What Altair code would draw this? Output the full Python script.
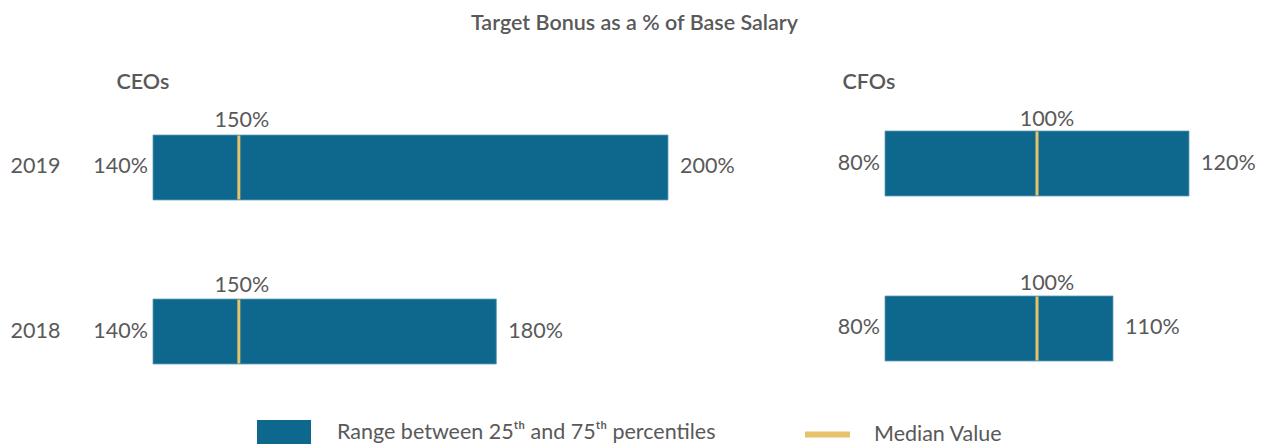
import altair as alt
import pandas as pd

years = ["2019", "2018"]
ceo_low = [140, 140]
ceo_med = [150, 150]
ceo_high = [200, 180]
cfo_low = [80, 80]
cfo_med = [100, 100]
cfo_high = [120, 110]

BLUE = "#0E678C"
GOLD = "#E6C26A"
GREY = "#595959"
FONT = "Lato"
FS = 21.5
RANGE_LABEL = "Range between 25ᵗʰ and 75ᵗʰ percentiles"
MEDIAN_LABEL = "Median Value"
TOP = 40


def frame(low, med, high):
    return pd.DataFrame({
        "year": years, "low": low, "med": med, "high": high,
        "low_t": [f"{v}%" for v in low],
        "med_t": [f"{v}%" for v in med],
        "high_t": [f"{v}%" for v in high],
        "range_key": [RANGE_LABEL] * len(years),
        "median_key": [MEDIAN_LABEL] * len(years),
    })


def panel(df, xdom, xrange, yrange, pad, yaxis, legends, med_dx, med_dy):
    xs = alt.Scale(domain=xdom, range=xrange, nice=False, zero=False)
    ys = alt.Scale(type="band", domain=years, range=yrange, paddingInner=pad, paddingOuter=0)
    base = alt.Chart(df)
    yenc_axis = alt.Y("year:N", scale=ys, axis=yaxis, sort=years)
    yenc = alt.Y("year:N", scale=ys, axis=None, sort=years)
    if legends:
        bar_color = alt.Color("range_key:N", scale=alt.Scale(domain=[RANGE_LABEL], range=[BLUE]),
                              legend=alt.Legend(title=None, orient="none", legendX=257, legendY=366,
                                                padding=0, symbolType="M-1,-0.48H1V0.48H-1Z",
                                                symbolSize=2916, symbolStrokeWidth=0,
                                                symbolFillColor=BLUE, symbolOpacity=1,
                                                labelOffset=26, labelFont=FONT, labelFontSize=FS,
                                                labelColor=GREY, labelLimit=600))
        med_color = alt.Color("median_key:N", scale=alt.Scale(domain=[MEDIAN_LABEL], range=[GOLD]),
                              legend=alt.Legend(title=None, orient="none", legendX=805, legendY=372,
                                                padding=0, symbolType="M-1,-0.133H1V0.133H-1Z",
                                                symbolSize=2025, symbolStrokeWidth=0,
                                                symbolFillColor=GOLD, symbolOpacity=1,
                                                labelOffset=24, labelFont=FONT, labelFontSize=FS,
                                                labelColor=GREY, labelLimit=600))
    else:
        bar_color = alt.value(BLUE)
        med_color = alt.value(GOLD)
    bars = base.mark_bar(stroke="#5f9dbb", strokeWidth=0.8, opacity=1).encode(
        x=alt.X("low:Q", scale=xs, axis=None), x2="high:Q", y=yenc_axis, color=bar_color)
    ticks = base.mark_tick(orient="vertical", size=64, thickness=3, opacity=1).encode(
        x=alt.X("med:Q", scale=xs, axis=None), y=yenc, color=med_color)
    low_t = base.mark_text(align="right", baseline="middle", dx=-5, font=FONT, fontSize=FS,
                           color=GREY).encode(x=alt.X("low:Q", scale=xs, axis=None), y=yenc, text="low_t:N")
    high_t = base.mark_text(align="left", baseline="middle", dx=12, font=FONT, fontSize=FS,
                            color=GREY).encode(x=alt.X("high:Q", scale=xs, axis=None), y=yenc, text="high_t:N")
    med_t = base.mark_text(align="center", baseline="alphabetic", dx=med_dx, dy=med_dy, font=FONT,
                           fontSize=FS, color=GREY).encode(
        x=alt.X("med:Q", scale=xs, axis=None), y=yenc, text="med_t:N")
    return [bars, ticks, low_t, high_t, med_t]


ceo_axis = alt.Axis(orient="left", offset=-62, domain=False, ticks=False, labelPadding=2,
                    labelFont=FONT, labelFontSize=FS, labelColor=GREY,
                    title="CEOs", titleAngle=0, titleX=54, titleY=88 - TOP, titleAlign="left",
                    titleBaseline="alphabetic", titleFont=FONT, titleFontSize=FS,
                    titleFontWeight=600, titleColor=GREY)
cfo_axis = alt.Axis(orient="right", offset=0, domain=False, ticks=False, labels=False,
                    title="CFOs", titleAngle=0, titleX=842 - 1269, titleY=88 - TOP, titleAlign="left",
                    titleBaseline="alphabetic", titleFont=FONT, titleFontSize=FS,
                    titleFontWeight=600, titleColor=GREY)

ceo_layers = panel(frame(ceo_low, ceo_med, ceo_high), [140, 200], [153, 668],
                   [135 - TOP, 364 - TOP], 0.604, ceo_axis, True, 3, -40)
cfo_layers = panel(frame(cfo_low, cfo_med, cfo_high), [80, 120], [885, 1189],
                   [131 - TOP, 361 - TOP], 0.606, cfo_axis, False, 10, -38)

chart = alt.layer(*ceo_layers, *cfo_layers).resolve_scale(
    x="independent", y="independent", color="independent"
).properties(
    width=1269, height=444 - TOP,
    background="white",
    title=alt.Title("Target Bonus as a % of Base Salary", font=FONT, fontSize=FS, fontWeight=600,
                    color=GREY, anchor="middle", frame="group", baseline="alphabetic", offset=-11),
    autosize=alt.AutoSizeParams(type="none"),
    padding={"top": TOP, "left": 0, "right": 0, "bottom": 0},
).configure_view(stroke="transparent", strokeWidth=0)

chart.save("out.html", embed_options={"renderer": "svg", "actions": False})
